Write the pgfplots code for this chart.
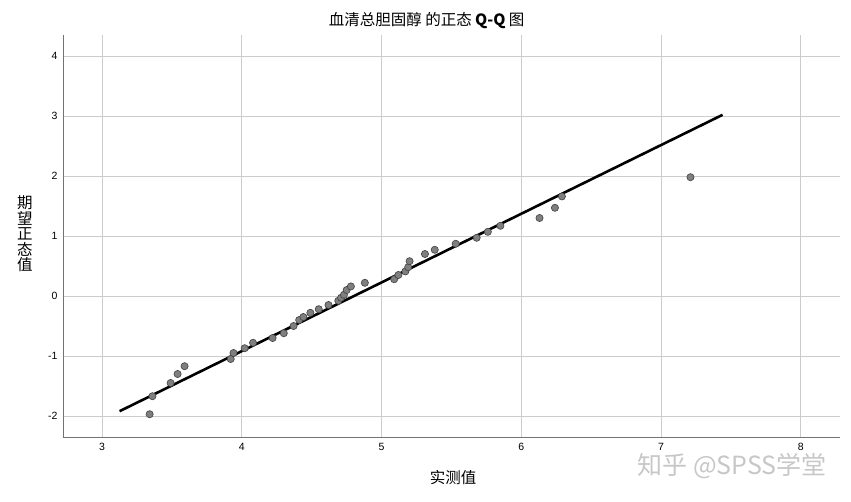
\documentclass[border=0pt]{standalone}
\usepackage{pgfplots}
\pgfplotsset{compat=1.18}
\usepackage{fontspec}
\setmainfont{Liberation Sans}
\newfontfamily\cjk{Noto Sans CJK SC}
\newcommand\tl[1]{{\fontsize{10.5}{12}\selectfont #1}}
\definecolor{gridc}{HTML}{CCCCCC}
\definecolor{ptfill}{HTML}{7F7F7F}
\begin{document}
\begin{tikzpicture}
\useasboundingbox (-63pt,-64pt) rectangle (788pt,437pt);
\begin{axis}[
  at={(0,0)}, anchor=south west,
  scale only axis,
  width=777pt, height=402pt,
  xmin=2.72, xmax=8.28,
  ymin=-2.35, ymax=4.35,
  xtick={3,4,5,6,7,8},
  ytick={-2,-1,0,1,2,3,4},
  xticklabels={\tl{3},\tl{4},\tl{5},\tl{6},\tl{7},\tl{8}},
  yticklabels={\tl{-2},\tl{-1},\tl{0},\tl{1},\tl{2},\tl{3},\tl{4}},
  grid=major,
  major grid style={gridc, line width=0.8pt},
  axis x line*=bottom, axis y line*=left,
  axis line style={-, color=black!55, line width=0.8pt},
  major tick length=0pt,
  tick style={draw=none},
  tick label style={text=black},
  xticklabel style={yshift=-3pt},
  yticklabel style={xshift=-2pt},
  clip=false,
]
\addplot[black, line width=2.6pt, no marks] coordinates {(3.125,-1.92) (7.44,3.02)};
\addplot[only marks, mark=*, mark size=3.6pt, mark options={fill=ptfill, draw=black!75, line width=0.6pt}] coordinates {
(3.34,-1.97) (3.36,-1.67) (3.49,-1.45) (3.54,-1.30) (3.59,-1.17)
(3.92,-1.05) (3.94,-0.95) (4.02,-0.87) (4.08,-0.78) (4.22,-0.70)
(4.30,-0.62) (4.37,-0.50) (4.41,-0.40) (4.44,-0.35) (4.49,-0.28)
(4.55,-0.22) (4.62,-0.15) (4.69,-0.08) (4.71,-0.03) (4.73,0.02)
(4.75,0.10) (4.78,0.16) (4.88,0.22) (5.09,0.28) (5.12,0.35)
(5.17,0.41) (5.19,0.48) (5.20,0.58) (5.31,0.70) (5.38,0.77)
(5.53,0.87) (5.68,0.97) (5.76,1.07) (5.85,1.17) (6.13,1.30)
(6.24,1.47) (6.29,1.66) (7.21,1.98)
};
\node[font=\cjk\fontsize{15.5}{17}\selectfont] at (axis description cs:0.468,1.037) {血清总胆固醇 的正态 \textbf{Q-Q} 图};
\node[font=\cjk\fontsize{15.5}{17}\selectfont] at (axis description cs:0.502,-0.102) {实测值};
\node[font=\cjk\fontsize{15.5}{17}\selectfont, align=center, inner sep=0pt] at (axis description cs:-0.049,0.505) {期\\[-1.5pt]望\\[-1.5pt]正\\[-1.5pt]态\\[-1.5pt]值};
\node[font=\cjk\fontsize{25}{26}\selectfont, text=black!22] at (axis description cs:0.861,-0.073) {知乎 @SPSS学堂};
\end{axis}
\end{tikzpicture}
\end{document}
